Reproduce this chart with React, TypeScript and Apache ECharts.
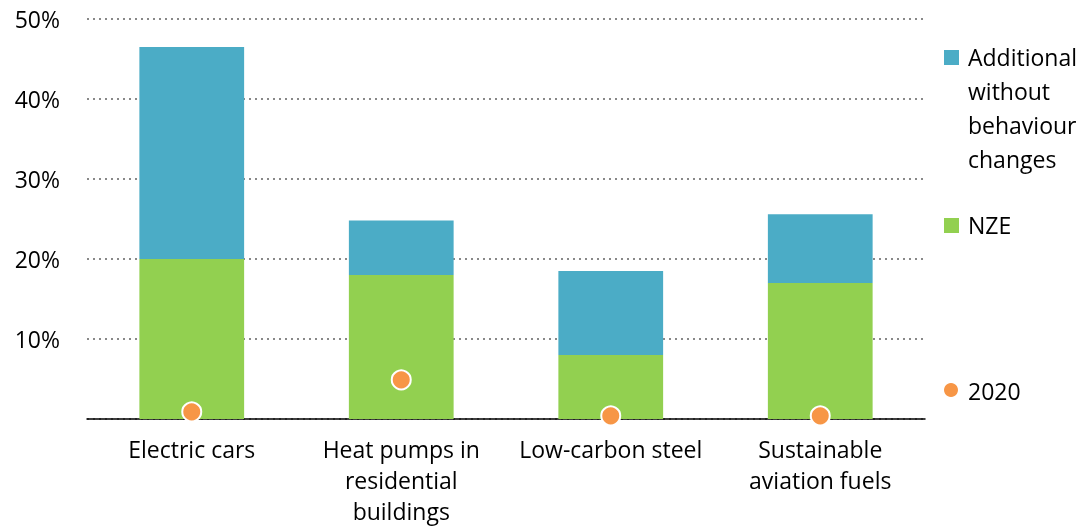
import React, { useEffect, useRef } from "react";
import * as echarts from "echarts";

const categories = [
  "Electric cars",
  "Heat pumps in\nresidential\nbuildings",
  "Low-carbon steel",
  "Sustainable\naviation fuels",
];
const nze = [20, 18, 8, 17];
const additional = [26.5, 6.8, 10.5, 8.6];
const y2020 = [0.9, 4.9, 0.4, 0.4];
const yTicks = [0, 10, 20, 30, 40, 50];

const FONT = "Open Sans";
const FS = 23;
const BLUE = "#4BACC6";
const GREEN = "#92D050";
const ORANGE = "#F79646";

export default function App() {
  const ref = useRef<HTMLDivElement>(null);
  useEffect(() => {
    if (!ref.current) return;
    const chart = echarts.init(ref.current, undefined, { renderer: "svg" });
    chart.setOption({
      animation: false,
      textStyle: { fontFamily: FONT },
      grid: { left: 87, right: 161, top: 19, bottom: 110, containLabel: false },
      xAxis: {
        type: "category",
        data: categories,
        axisLine: { lineStyle: { color: "#000", width: 1.5 } },
        axisTick: { show: false },
        axisLabel: {
          color: "#000",
          fontSize: FS,
          lineHeight: 31,
          margin: 14,
          interval: 0,
          fontFamily: FONT,
        },
      },
      yAxis: {
        type: "value",
        min: yTicks[0],
        max: yTicks[yTicks.length - 1],
        interval: 10,
        axisLine: { show: false },
        axisTick: { show: false },
        axisLabel: {
          color: "#000",
          fontSize: FS,
          margin: 27,
          fontFamily: FONT,
          formatter: (v: number) => (v === 0 ? "" : v + "%"),
        },
        splitLine: {
          lineStyle: { color: "#888", type: [2, 4], width: 2 },
        },
      },
      series: [
        {
          name: "NZE",
          type: "bar",
          stack: "s",
          data: nze,
          barWidth: "50%",
          itemStyle: { color: GREEN },
        },
        {
          name: "Additional without behaviour changes",
          type: "bar",
          stack: "s",
          data: additional,
          barWidth: "50%",
          itemStyle: { color: BLUE },
        },
        {
          name: "2020",
          type: "scatter",
          data: y2020,
          symbolSize: 19,
          itemStyle: { color: ORANGE, borderColor: "#fff", borderWidth: 2, opacity: 1 },
          z: 5,
        },
      ],
      graphic: [
        { type: "rect", shape: { x: 944, y: 50, width: 15, height: 15 }, style: { fill: BLUE } },
        {
          type: "text",
          x: 968,
          y: 40,
          style: {
            text: "Additional\nwithout\nbehaviour\nchanges",
            fontSize: FS,
            lineHeight: 34,
            fontFamily: FONT,
            fill: "#000",
          },
        },
        { type: "rect", shape: { x: 944, y: 218, width: 15, height: 15 }, style: { fill: GREEN } },
        {
          type: "text",
          x: 968,
          y: 208,
          style: { text: "NZE", fontSize: FS, lineHeight: 34, fontFamily: FONT, fill: "#000" },
        },
        { type: "circle", shape: { cx: 951, cy: 390, r: 7 }, style: { fill: ORANGE } },
        {
          type: "text",
          x: 968,
          y: 374,
          style: { text: "2020", fontSize: FS, lineHeight: 34, fontFamily: FONT, fill: "#000" },
        },
      ],
    });
    return () => chart.dispose();
  }, []);
  return (
    <div
      ref={ref}
      style={{ position: "fixed", left: 0, top: 0, width: 1086, height: 529 }}
    />
  );
}
